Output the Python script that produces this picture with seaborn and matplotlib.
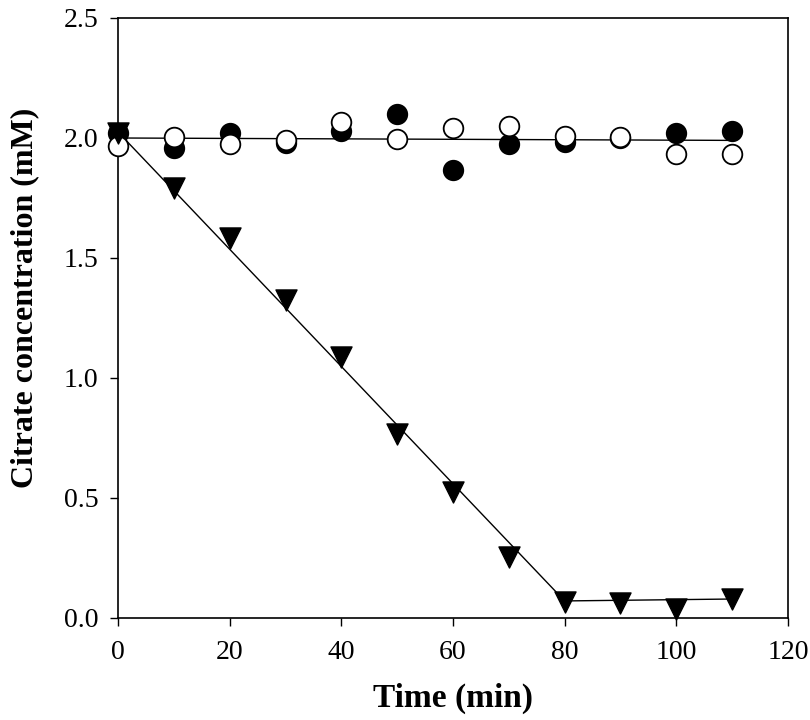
import matplotlib
matplotlib.use("Agg")
import matplotlib.pyplot as plt
import seaborn as sns
import pandas as pd

# sampling times (min)
time_min = [0, 10, 20, 30, 40, 50, 60, 70, 80, 90, 100, 110]

# citrate concentration (mM)
filled_circle = [2.02, 1.96, 2.02, 1.98, 2.03, 2.10, 1.865, 1.975, 1.985, 2.00, 2.02, 2.03]
open_circle = [1.965, 2.005, 1.975, 1.99, 2.065, 1.995, 2.04, 2.05, 2.01, 2.005, 1.933, 1.933]
triangle = [2.02, 1.79, 1.585, 1.325, 1.086, 0.767, 0.527, 0.255, 0.067, 0.063, 0.036, 0.080]

# fitted lines (end points)
flat_fit_x = [0, 110]
flat_fit_y = [2.00, 1.99]
decay_fit_x = [0, 80, 110]
decay_fit_y = [2.025, 0.071, 0.079]

sns.set_theme(style="ticks")
plt.rcParams['font.family'] = ['Liberation Serif', 'DejaVu Serif']

df = pd.DataFrame({'time': time_min, 'filled': filled_circle,
                   'open': open_circle, 'tri': triangle})

fig, ax = plt.subplots(figsize=(8.1, 7.2), dpi=100)
fig.subplots_adjust(left=0.1457, right=0.9728, bottom=0.1417, top=0.975)

sns.lineplot(x=flat_fit_x, y=flat_fit_y, color='black', linewidth=1.0, ax=ax, zorder=2)
sns.lineplot(x=decay_fit_x, y=decay_fit_y, color='black', linewidth=1.0, ax=ax, zorder=2)

sns.scatterplot(data=df, x='time', y='filled', marker='o', s=200, color='black',
                edgecolor='black', linewidth=1.2, ax=ax, zorder=3, clip_on=False)
sns.scatterplot(data=df, x='time', y='open', marker='o', s=200, color='white',
                edgecolor='black', linewidth=1.3, ax=ax, zorder=4, clip_on=False)
sns.scatterplot(data=df, x='time', y='tri', marker='v', s=230, color='black',
                edgecolor='black', linewidth=1.0, ax=ax, zorder=5, clip_on=False)

ax.set_xlim(0, 120)
ax.set_ylim(0, 2.5)
ax.set_xticks([0, 20, 40, 60, 80, 100, 120])
ax.set_yticks([0.0, 0.5, 1.0, 1.5, 2.0, 2.5])
ax.set_yticklabels(['0.0', '0.5', '1.0', '1.5', '2.0', '2.5'])
ax.tick_params(axis='both', direction='out', length=6, width=1.0, labelsize=20,
               colors='black', top=False, right=False)
ax.tick_params(axis='x', pad=10)
ax.tick_params(axis='y', pad=8)
for sp in ax.spines.values():
    sp.set_visible(True)
    sp.set_color('black')
    sp.set_linewidth(1.2)

ax.set_xlabel('Time (min)', fontsize=24, fontweight='bold', color='black')
ax.set_ylabel('Citrate concentration (mM)', fontsize=23, fontweight='bold', color='black')
ax.xaxis.set_label_coords(0.5, -0.108)
ax.yaxis.set_label_coords(-0.118, 0.533)

plt.savefig('out.png', dpi=100)
